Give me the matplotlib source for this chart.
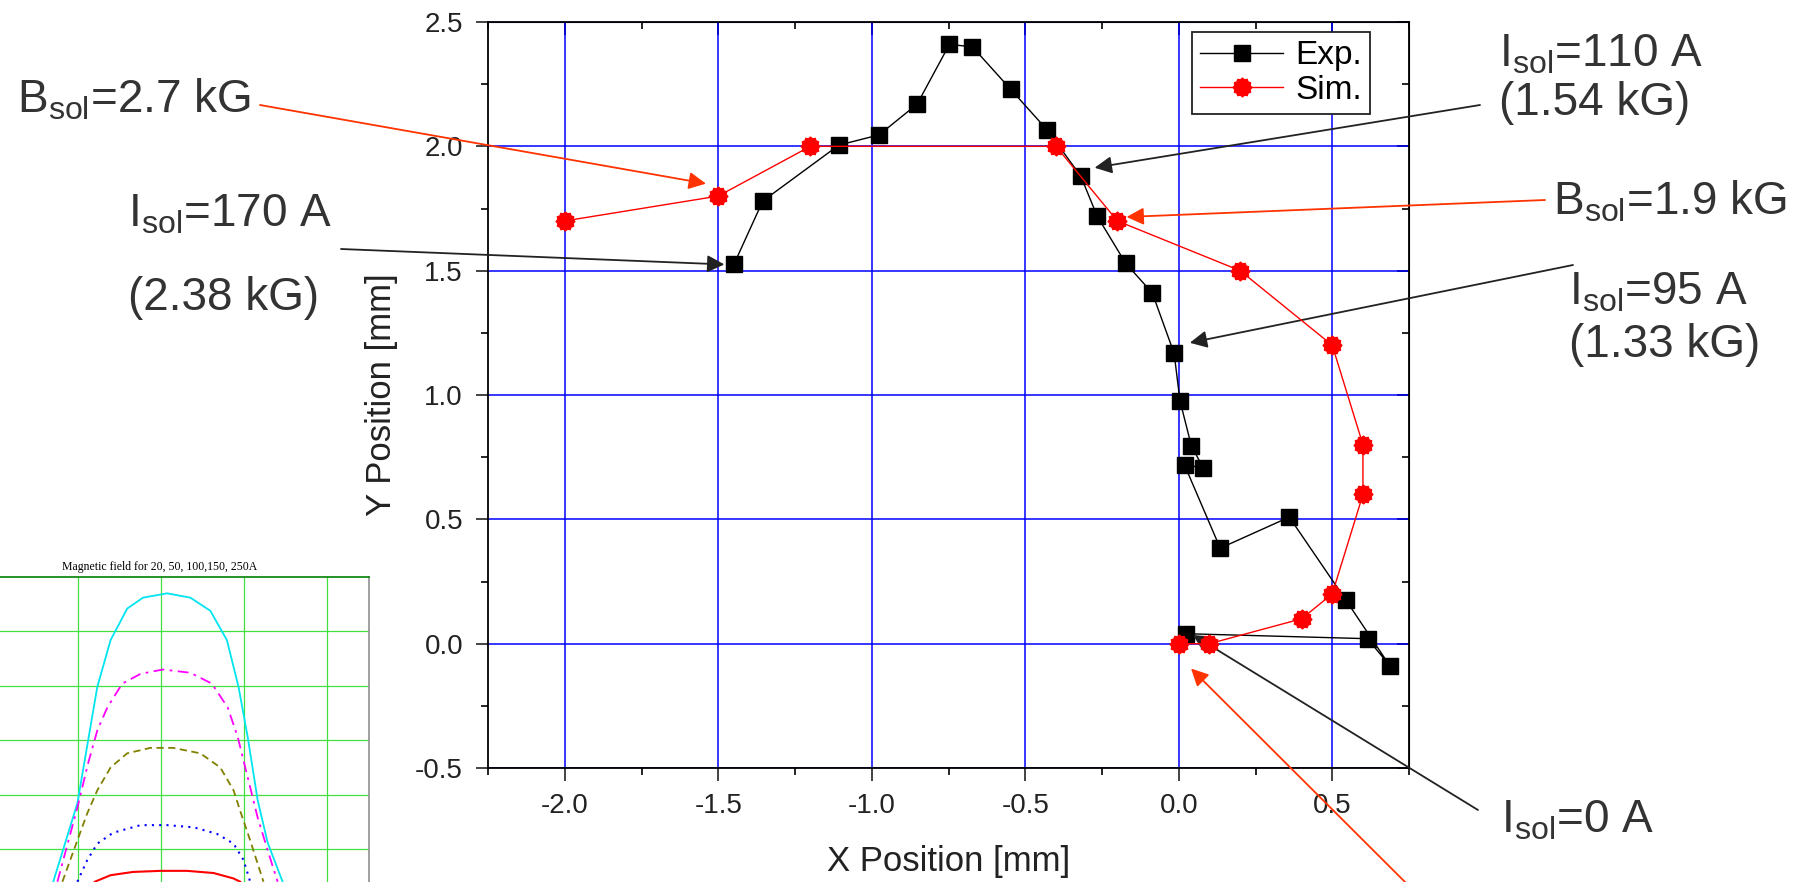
import matplotlib
matplotlib.use("Agg")
import matplotlib.pyplot as plt
from matplotlib.path import Path
from matplotlib.ticker import MultipleLocator

plt.rcParams['font.family'] = ['Liberation Sans', 'DejaVu Sans']
plt.rcParams['mathtext.fontset'] = 'custom'
plt.rcParams['mathtext.rm'] = 'Liberation Sans'

# measured beam centroid (Exp.) and simulation (Sim.)
exp_x = [0.025, 0.615, 0.687, 0.544, 0.36, 0.135, 0.019, 0.079, 0.041, 0.004,
         -0.015, -0.086, -0.173, -0.266, -0.319, -0.428, -0.548, -0.672,
         -0.747, -0.852, -0.976, -1.107, -1.355, -1.448]
exp_y = [0.04, 0.02, -0.088, 0.176, 0.509, 0.384, 0.718, 0.708, 0.796, 0.977,
         1.167, 1.41, 1.53, 1.72, 1.88, 2.065, 2.23, 2.40,
         2.41, 2.17, 2.046, 2.005, 1.78, 1.528]

sim_x = [0.0, 0.1, 0.4, 0.5, 0.6, 0.6, 0.5, 0.2, -0.2, -0.4, -1.2, -1.5, -2.0]
sim_y = [0.0, 0.0, 0.1, 0.2, 0.6, 0.8, 1.2, 1.5, 1.7, 2.0, 2.0, 1.8, 1.7]

# inset: field profiles (cropped)
prof_cyan_x = [-13.0, -10.1, -8.8, -7.7, -6.1, -4.1, -2.2, 0.7, 3.5, 5.9, 7.9, 9.3, 10.4, 11.6, 12.8, 14.6]
prof_cyan_y = [0.20, 0.92, 1.50, 1.99, 2.42, 2.71, 2.81, 2.85, 2.81, 2.69, 2.42, 1.99, 1.53, 0.95, 0.56, 0.20]
prof_mag_x = [-12.5, -10.1, -8.8, -7.7, -6.5, -4.7, -2.5, 0.2, 3.5, 6.1, 8.0, 9.2, 10.4, 11.6, 12.8, 14.0]
prof_mag_y = [0.20, 0.88, 1.29, 1.59, 1.80, 2.02, 2.11, 2.15, 2.12, 2.02, 1.80, 1.53, 1.16, 0.79, 0.49, 0.20]
prof_olive_x = [-11.9, -10.1, -8.9, -7.7, -6.1, -4.1, -1.3, 1.4, 4.7, 7.1, 8.7, 9.5, 10.7, 12.3]
prof_olive_y = [0.20, 0.58, 0.83, 1.04, 1.25, 1.38, 1.43, 1.43, 1.38, 1.25, 1.04, 0.85, 0.58, 0.20]
prof_blue_x = [-10.1, -8.9, -7.7, -5.8, -2.5, 0.7, 3.9, 6.7, 8.7, 9.9, 10.7]
prof_blue_y = [0.20, 0.40, 0.55, 0.65, 0.72, 0.72, 0.70, 0.64, 0.55, 0.40, 0.20]
prof_red_x = [-8.0, -6.1, -3.4, -0.1, 3.1, 6.3, 8.7, 9.5]
prof_red_y = [0.20, 0.26, 0.29, 0.30, 0.30, 0.28, 0.23, 0.20]

W, H = 1809, 882


def fp(x, y):
    # pixel position -> figure fraction
    return x / W, 1 - y / H


fig = plt.figure(figsize=(W / 100, H / 100), dpi=100)

# ---- inset (cropped field plot) ----
ins = fig.add_axes([-88 / W, 1 - 903.5 / H, (369 + 88) / W, (903.5 - 577) / H])
for c_x, c_y, col, ls, lw in [
    (prof_cyan_x, prof_cyan_y, '#00e5f0', '-', 1.3),
    (prof_mag_x, prof_mag_y, '#ff00ff', (0, (6, 3, 1.5, 3)), 1.3),
    (prof_olive_x, prof_olive_y, '#808000', (0, (4, 2.5)), 1.3),
    (prof_blue_x, prof_blue_y, '#0000ff', (0, (1, 2.5)), 1.5),
    (prof_red_x, prof_red_y, '#ff0000', '-', 1.5),
]:
    ins.plot(c_x, c_y, color=col, ls=ls, lw=lw)
ins.set_xlim(-30, 25)
ins.set_ylim(0, 3.0)
ins.set_xticks([-20, -10, 0, 10, 20])
ins.set_yticks([0.5, 1.0, 1.5, 2.0, 2.5])
ins.grid(True, color='#40e040', lw=0.9)
ins.set_axisbelow(True)
ins.tick_params(length=0, labelleft=False, labelbottom=False)
ins.spines['top'].set_color('#008000')
ins.spines['right'].set_color('#909090')
ins.spines['top'].set_linewidth(1.2)
ins.spines['right'].set_linewidth(1.2)
fig.text(*fp(160, 570), 'Magnetic field for 20, 50, 100,150, 250A',
         ha='center', va='baseline', fontsize=8.5, family='Liberation Serif')

# ---- main axes ----
ax = fig.add_axes([488 / W, 1 - 768 / H, (1409 - 488) / W, (768 - 22) / H])
ax.plot(exp_x, exp_y, color='black', lw=1.0, marker='s', ms=11.5,
        mfc='black', mec='black', label='Exp.', zorder=3)
star = Path.unit_regular_star(12, 0.84)
ax.plot(sim_x, sim_y, color='#ff0000', lw=1.0, marker=star, ms=13.5,
        mfc='#ff0000', mec='#ff0000', label='Sim.', zorder=4)

ax.set_xlim(-2.25, 0.75)
ax.set_ylim(-0.5, 2.5)
ax.xaxis.set_major_locator(MultipleLocator(0.5))
ax.xaxis.set_minor_locator(MultipleLocator(0.25))
ax.yaxis.set_major_locator(MultipleLocator(0.5))
ax.yaxis.set_minor_locator(MultipleLocator(0.25))
ax.xaxis.set_major_formatter(plt.FuncFormatter(lambda v, p: f"{v:.1f}"))
ax.yaxis.set_major_formatter(plt.FuncFormatter(lambda v, p: f"{v:.1f}"))
ax.grid(True, which='major', color='#0000ff', lw=1.1)
ax.set_axisbelow(True)
ax.tick_params(which='major', direction='out', length=9, width=1.2,
               labelsize=20, colors='#222222', pad=9)
ax.tick_params(which='minor', direction='out', length=5, width=1.2)
for s in ax.spines.values():
    s.set_linewidth(1.3)

top = ax.secondary_xaxis('top')
top.xaxis.set_major_locator(MultipleLocator(0.5))
top.xaxis.set_minor_locator(MultipleLocator(0.25))
top.tick_params(which='major', direction='in', length=9, width=1.2, labeltop=False)
top.tick_params(which='minor', direction='in', length=5, width=1.2)
right = ax.secondary_yaxis('right')
right.yaxis.set_major_locator(MultipleLocator(0.5))
right.yaxis.set_minor_locator(MultipleLocator(0.25))
right.tick_params(which='major', direction='in', length=9, width=1.2, labelright=False)
right.tick_params(which='minor', direction='in', length=5, width=1.2)

ax.set_xlabel('X Position [mm]', fontsize=25, color='#222222', labelpad=19)
ax.set_ylabel('Y Position [mm]', fontsize=25, color='#222222', labelpad=12)

leg = ax.legend(loc='upper right', bbox_to_anchor=(1 - 39 / 921, 1 - 10 / 746),
                fontsize=24, frameon=True, fancybox=False, framealpha=1,
                edgecolor='#222222', borderpad=0.25, labelspacing=0.1,
                handlelength=2.5, handletextpad=0.35, borderaxespad=0)
leg.get_frame().set_linewidth(1.3)

# ---- annotations ----
tcol = '#333333'
fs = 33
fig.text(*fp(17, 113), r'$\mathregular{B_{sol}}$=2.7 kG', fontsize=fs, color=tcol, va='baseline')
fig.text(*fp(128, 227), r'$\mathregular{I_{sol}}$=170 A', fontsize=fs, color=tcol, va='baseline')
fig.text(*fp(128, 310), '(2.38 kG)', fontsize=fs, color=tcol, va='baseline')
fig.text(*fp(1499, 67), r'$\mathregular{I_{sol}}$=110 A', fontsize=fs, color=tcol, va='baseline')
fig.text(*fp(1499, 115), '(1.54 kG)', fontsize=fs, color=tcol, va='baseline')
fig.text(*fp(1553, 215), r'$\mathregular{B_{sol}}$=1.9 kG', fontsize=fs, color=tcol, va='baseline')
fig.text(*fp(1569, 305), r'$\mathregular{I_{sol}}$=95 A', fontsize=fs, color=tcol, va='baseline')
fig.text(*fp(1569, 357), '(1.33 kG)', fontsize=fs, color=tcol, va='baseline')
fig.text(*fp(1501, 833), r'$\mathregular{I_{sol}}$=0 A', fontsize=fs, color=tcol, va='baseline')

black_arrow = dict(arrowstyle='-|>', color='#222222', lw=1.3, mutation_scale=26,
                   shrinkA=0, shrinkB=0)
red_arrow = dict(arrowstyle='-|>', color='#ff3300', lw=1.3, mutation_scale=26,
                 shrinkA=0, shrinkB=0)
for tip, start, props in [
    ((-1.54, 1.85), (260, 105), red_arrow),
    ((-1.48, 1.525), (341, 249), black_arrow),
    ((-0.274, 1.914), (1480, 105), black_arrow),
    ((-0.17, 1.716), (1545, 200), red_arrow),
    ((0.036, 1.21), (1573, 265), black_arrow),
    ((0.046, 0.035), (1478, 810), black_arrow),
    ((0.04, -0.10), (1408, 885), red_arrow),
]:
    ax.annotate('', xy=tip, xycoords='data', xytext=fp(*start),
                textcoords='figure fraction', arrowprops=props,
                annotation_clip=False)

fig.savefig('out.png', dpi=100)
